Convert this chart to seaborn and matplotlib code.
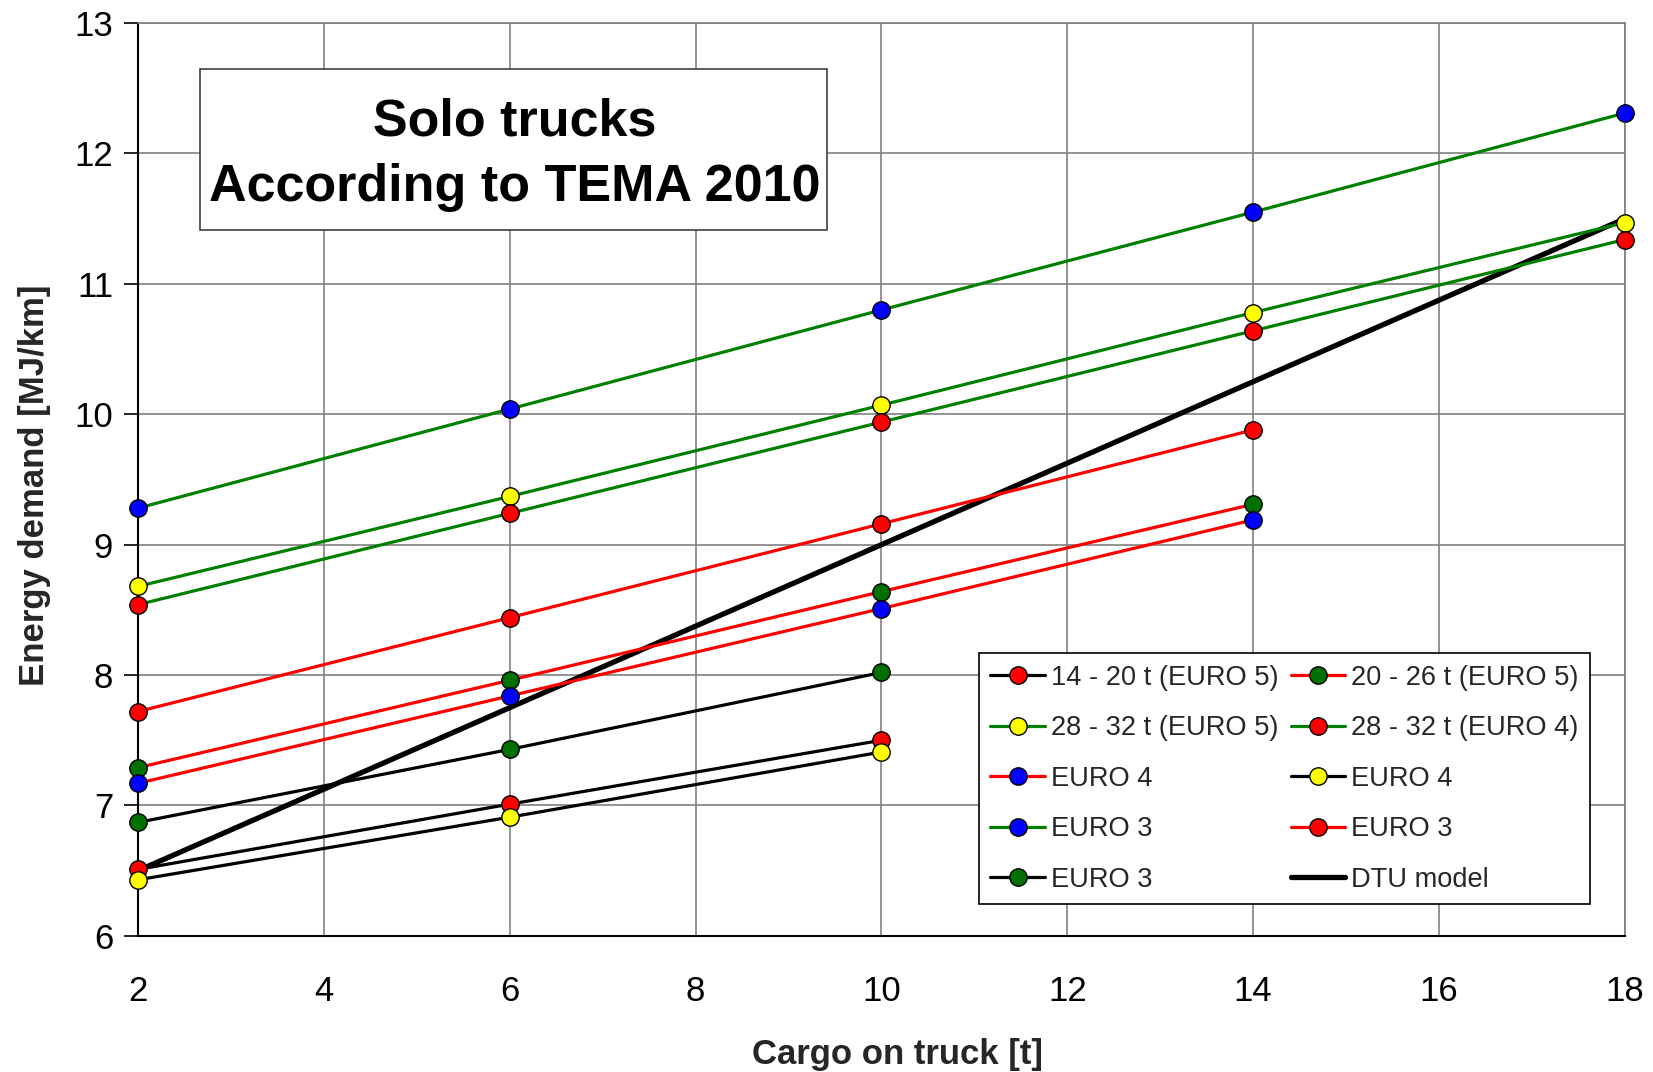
import numpy as np
import pandas as pd
import matplotlib
matplotlib.use("Agg")
import matplotlib.pyplot as plt
import matplotlib.patches as mpatches
import seaborn as sns

cargo = [2, 6, 10, 14, 18]

labels = ["14 - 20 t (EURO 5)", "20 - 26 t (EURO 5)", "28 - 32 t (EURO 5)",
          "28 - 32 t (EURO 4)", "EURO 4", "EURO 4", "EURO 3", "EURO 3", "EURO 3"]

s1 = [6.51, 7.01, 7.50]
s2 = [7.29, 7.96, 8.64, 9.31]
s3 = [8.68, 9.37, 10.07, 10.78, 11.47]
s4 = [8.54, 9.24, 9.94, 10.64, 11.34]
s5 = [7.17, 7.84, 8.51, 9.19]
s6 = [6.43, 6.91, 7.41]
s7 = [9.28, 10.04, 10.80, 11.55, 12.31]
s8 = [7.72, 8.44, 9.16, 9.88]
s9 = [6.87, 7.43, 8.02]
dtu = [6.50, 7.75, 9.00, 10.25, 11.50]

series = [s1, s2, s3, s4, s5, s6, s7, s8, s9]
line_colors = ["black", "#ff0000", "#008000", "#008000", "#ff0000", "black", "#008000", "#ff0000", "black"]
marker_colors = ["#ff0000", "#007000", "#ffff00", "#ff0000", "#0000ff", "#ffff00", "#0000ff", "#ff0000", "#007000"]

sns.set_theme(style="white")
plt.rcParams['font.family'] = ['Liberation Sans', 'DejaVu Sans']

fig = plt.figure(figsize=(16.53, 10.72), dpi=100)
ax = fig.add_axes([0.0835, 0.127, 0.8995, 0.8515])

handles = []
sns.lineplot(x=cargo, y=dtu, color="black", linewidth=3.8, ax=ax, zorder=2)
dtu_handle = ax.get_lines()[-1]
for vals, lc, mc, lab in zip(series, line_colors, marker_colors, labels):
    sns.lineplot(x=cargo[:len(vals)], y=vals, color=lc, linewidth=2.3, marker="o",
                 markersize=12.5, markerfacecolor=mc, markeredgecolor="black",
                 markeredgewidth=1.0, ax=ax, zorder=3, clip_on=False)
    h = ax.get_lines()[-1]
    h.set_label(lab)
    handles.append(h)
dtu_handle.set_label("DTU model")

ax.set_xlim(2, 18)
ax.set_ylim(6, 13)
ax.set_xticks(range(2, 19, 2))
ax.set_yticks(range(6, 14))
ax.grid(True, color="#808080", linewidth=1.2)
ax.set_axisbelow(True)
for s in ["left", "bottom"]:
    ax.spines[s].set_color("black")
    ax.spines[s].set_linewidth(1.5)
for s in ["top", "right"]:
    ax.spines[s].set_color("#808080")
    ax.spines[s].set_linewidth(1.2)
ax.tick_params(axis="both", which="major", labelsize=25, width=1.2,
               color="black", direction="out")
ax.tick_params(axis="y", length=10, pad=8, left=True)
ax.tick_params(axis="x", length=0, pad=28, bottom=True)
for t in ax.get_xticklabels() + ax.get_yticklabels():
    t.set_color("black")

ax.set_xlabel("Cargo on truck [t]", fontsize=25, fontweight="bold", labelpad=22)
ax.set_ylabel("Energy demand [MJ/km]", fontsize=25, fontweight="bold", labelpad=17)
ax.xaxis.label.set_x(0.511)
ax.yaxis.label.set_y(0.494)

title_box = mpatches.Rectangle((2.67, 11.41), 6.74, 1.24, facecolor="white",
                               edgecolor="#404040", linewidth=1.2, zorder=5)
ax.add_patch(title_box)
ax.text(6.05, 11.99, "Solo trucks\nAccording to TEMA 2010", ha="center", va="center",
        fontsize=37.5, fontweight="bold", linespacing=1.45, color="black", zorder=6)

order = [handles[0], handles[2], handles[4], handles[6], handles[8],
         handles[1], handles[3], handles[5], handles[7], dtu_handle]
leg = ax.legend(handles=order, labels=[h.get_label() for h in order], ncol=2,
                loc="lower left", bbox_to_anchor=(0.5656, 0.0345), borderaxespad=0,
                frameon=True, fancybox=False, edgecolor="black", framealpha=1,
                borderpad=0.42, labelspacing=0.9, handlelength=2.0, handletextpad=0.22,
                columnspacing=0.45,
                prop={'family': ['Liberation Sans', 'DejaVu Sans'], 'size': 19.6})
leg.get_frame().set_linewidth(1.2)
leg.set_zorder(7)

fig.savefig("out.png", dpi=100)
